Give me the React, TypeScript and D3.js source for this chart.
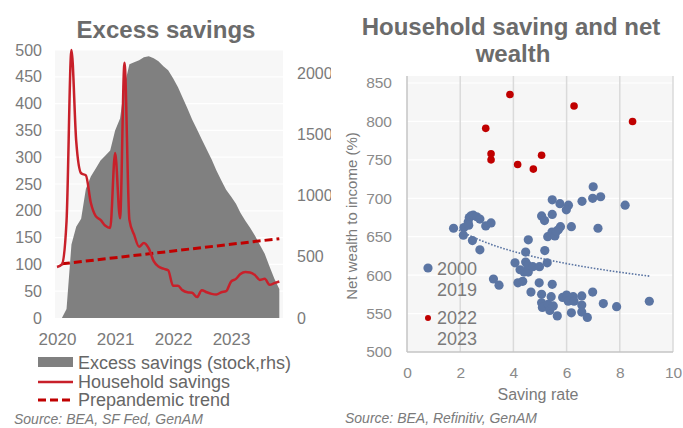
import React, { useEffect, useRef } from 'react';
import * as d3 from 'd3';

// ---- left chart: monthly, Jan 2020 .. Nov 2023
const firstMonth = new Date(2020, 0, 1);
const householdSavings = [
  95, 100, 180, 500, 330, 270, 266, 215, 190, 183, 172, 168,
  308, 186, 476, 183, 155, 133, 140, 130, 106, 96, 92, 89,
  60, 60, 52, 48, 47, 39, 52, 48, 45, 44, 48, 50,
  68, 73, 82, 86, 85, 80, 71, 73, 62, 65, 68,
];
const excessSavings = [
  0, 0, 74, 600, 746, 811, 1057, 1156, 1221, 1287, 1328, 1369,
  1533, 1631, 1900, 2074, 2090, 2107, 2131, 2139, 2123, 2098, 2057, 2025,
  1959, 1885, 1803, 1713, 1623, 1541, 1459, 1377, 1295, 1205, 1123, 1049,
  992, 934, 861, 795, 738, 672, 598, 525, 418, 320, 238,
];
// month index and value of the prepandemic trend ends
const trendMonths = [1, 46];
const trendValues = [101, 148];
const yearTicks = [2020, 2021, 2022, 2023];
const leftTicks = [0, 50, 100, 150, 200, 250, 300, 350, 400, 450, 500];
const rightTicks = [0, 500, 1000, 1500, 2000];

// ---- right chart: saving rate vs net wealth to income
const pre2020: [number, number][] = [
  [1.75, 661], [2.14, 662], [2.12, 652], [2.30, 669], [2.34, 675], [2.40, 677],
  [2.49, 678], [2.62, 676], [2.74, 673], [2.32, 665], [2.46, 645], [2.74, 633],
  [2.96, 664], [3.16, 668], [3.25, 595], [3.46, 587],
  [4.06, 616], [4.46, 630], [4.46, 617], [4.56, 646], [4.25, 607], [4.40, 604],
  [4.56, 604], [4.54, 613], [4.73, 611], [4.98, 611], [5.27, 616], [5.18, 632],
  [4.17, 590], [4.35, 592], [4.97, 590], [5.46, 588], [4.66, 578],
  [5.06, 575], [5.06, 564], [5.09, 558], [5.31, 562], [5.37, 554], [5.42, 572],
  [5.50, 560], [5.65, 547], [5.85, 571], [6.00, 574], [6.06, 566], [6.25, 572],
  [6.28, 566], [6.57, 573], [6.57, 561], [6.57, 552], [6.78, 545], [6.18, 551],
  [6.98, 578], [7.38, 563], [7.88, 559], [9.11, 566],
  [7.00, 715], [6.98, 700], [7.28, 702], [8.20, 691], [6.58, 696], [5.46, 698],
  [5.75, 693], [6.07, 691], [5.99, 685], [5.06, 677], [5.46, 679], [5.17, 671],
  [6.18, 663], [7.18, 661], [5.77, 663], [5.69, 659], [5.56, 655], [5.45, 656],
  [5.29, 650], [5.56, 651], [5.62, 657],
];
const recent: [number, number][] = [
  [2.96, 791], [3.16, 758], [3.16, 750], [3.87, 835], [4.16, 744],
  [4.75, 738], [5.06, 756], [6.28, 820], [8.48, 800],
];
const rateTicks = [0, 2, 4, 6, 8, 10];
const wealthTicks = [500, 550, 600, 650, 700, 750, 800, 850];

const font = "'Liberation Sans', Arial, sans-serif";

export default function App() {
  const svgRef = useRef<SVGSVGElement>(null);

  useEffect(() => {
    if (!svgRef.current) return;
    const svg = d3.select(svgRef.current);
    svg.selectAll('*').remove();
    svg.attr('font-family', font);

    const defs = svg.append('defs');
    defs.append('clipPath').attr('id', 'leftClip')
      .append('rect').attr('x', 0).attr('y', 0).attr('width', 331).attr('height', 428);

    // ================= LEFT =================
    const g = svg.append('g').attr('clip-path', 'url(#leftClip)');
    const months = householdSavings.map((_, i) => d3.timeMonth.offset(firstMonth, i));

    const x = d3.scaleTime()
      .domain([new Date(2020, 0, 1), new Date(2024, 0, 1)])
      .range([57, 289]);
    const yL = d3.scaleLinear().domain([0, 500]).range([318, 50]);
    const yR = d3.scaleLinear().domain([0, 2190]).range([318, 50]);

    g.append('rect')
      .attr('x', 55).attr('y', 50).attr('width', 228).attr('height', 268)
      .attr('fill', '#f7f7f7');

    g.append('g').selectAll('line').data(leftTicks.slice(1)).enter().append('line')
      .attr('x1', 55).attr('x2', 283)
      .attr('y1', (d) => yL(d)).attr('y2', (d) => yL(d))
      .attr('stroke', '#ffffff').attr('stroke-width', 1.2);

    const area = d3.area<number>()
      .x((_, i) => x(months[i]))
      .y0(yR(0))
      .y1((d) => yR(d));
    g.append('path').datum(excessSavings).attr('d', area).attr('fill', '#808080');

    const trendLine = d3.line<number>()
      .x((_, i) => x(d3.timeMonth.offset(firstMonth, trendMonths[i])))
      .y((d) => yL(d));
    g.append('path').datum(trendValues).attr('d', trendLine)
      .attr('fill', 'none').attr('stroke', '#c00000')
      .attr('stroke-width', 3).attr('stroke-dasharray', '8,4');

    const line = d3.line<number>()
      .x((_, i) => x(months[i]))
      .y((d) => yL(d))
      .curve(d3.curveMonotoneX);
    g.append('path').datum(householdSavings).attr('d', line)
      .attr('fill', 'none').attr('stroke', '#c8202a')
      .attr('stroke-width', 2.5).attr('stroke-linejoin', 'round');

    const styleAxis = (sel: any, size: number, color: string) => {
      sel.select('.domain').remove();
      sel.selectAll('line').remove();
      sel.selectAll('text').attr('font-family', font).attr('font-size', size).attr('fill', color);
    };

    g.append('g').attr('transform', 'translate(55,0)')
      .call(d3.axisLeft(yL).tickValues(leftTicks).tickSize(0).tickPadding(13))
      .call((s) => styleAxis(s, 16, '#7a7a7a'));

    g.append('g').attr('transform', 'translate(283,0)')
      .call(d3.axisRight(yR).tickValues(rightTicks).tickFormat(d3.format('d') as any)
        .tickSize(0).tickPadding(14))
      .call((s) => styleAxis(s, 16, '#7a7a7a'));

    g.append('g').attr('transform', 'translate(0,318)')
      .call(d3.axisBottom(x)
        .tickValues(yearTicks.map((yr) => new Date(yr, 0, 1)))
        .tickFormat(d3.timeFormat('%Y') as any)
        .tickSize(0).tickPadding(15))
      .call((s) => styleAxis(s, 17, '#7a7a7a'));

    g.append('text')
      .attr('x', 166).attr('y', 38).attr('text-anchor', 'middle')
      .attr('font-size', 24).attr('font-weight', 'bold').attr('fill', '#6b6b6b')
      .text('Excess savings');

    // legend
    const leg = g.append('g').attr('font-size', 18).attr('fill', '#666666');
    leg.append('rect').attr('x', 38).attr('y', 357).attr('width', 35).attr('height', 10).attr('fill', '#808080');
    leg.append('text').attr('x', 78).attr('y', 369).text('Excess savings (stock,rhs)');
    leg.append('line').attr('x1', 38).attr('x2', 73).attr('y1', 382).attr('y2', 382)
      .attr('stroke', '#c8202a').attr('stroke-width', 2.5);
    leg.append('text').attr('x', 78).attr('y', 388).text('Household savings');
    leg.append('line').attr('x1', 38).attr('x2', 73).attr('y1', 400).attr('y2', 400)
      .attr('stroke', '#c00000').attr('stroke-width', 3).attr('stroke-dasharray', '8,4');
    leg.append('text').attr('x', 78).attr('y', 406).text('Prepandemic trend');

    g.append('text').attr('x', 14).attr('y', 424)
      .attr('font-size', 14).attr('font-style', 'italic').attr('fill', '#7a7a7a')
      .text('Source: BEA, SF Fed, GenAM');

    // ================= RIGHT =================
    const r = svg.append('g');
    const xs = d3.scaleLinear().domain([0, 10]).range([407, 673]);
    const ys = d3.scaleLinear().domain([500, 850]).range([352, 83]);

    r.append('rect')
      .attr('x', 407).attr('y', 76).attr('width', 266).attr('height', 276)
      .attr('fill', '#f6f6f6');

    r.append('g').selectAll('line').data(wealthTicks.slice(1)).enter().append('line')
      .attr('x1', 407).attr('x2', 673)
      .attr('y1', (d) => ys(d)).attr('y2', (d) => ys(d))
      .attr('stroke', '#ffffff').attr('stroke-width', 1.2);

    r.append('g').selectAll('line').data(rateTicks.slice(1)).enter().append('line')
      .attr('x1', (d) => xs(d)).attr('x2', (d) => xs(d))
      .attr('y1', 76).attr('y2', 352)
      .attr('stroke', '#dadada').attr('stroke-width', 1.5);

    r.append('line').attr('x1', 407).attr('x2', 407).attr('y1', 76).attr('y2', 352)
      .attr('stroke', '#c4c4c4').attr('stroke-width', 1.5);
    r.append('line').attr('x1', 407).attr('x2', 673).attr('y1', 352).attr('y2', 352)
      .attr('stroke', '#c4c4c4').attr('stroke-width', 1.5);

    r.append('g').attr('transform', 'translate(407,0)')
      .call(d3.axisLeft(ys).tickValues(wealthTicks).tickSize(0).tickPadding(15))
      .call((s) => styleAxis(s, 15.5, '#8a8a8a'));

    r.append('g').attr('transform', 'translate(0,352)')
      .call(d3.axisBottom(xs).tickValues(rateTicks).tickSize(0).tickPadding(15))
      .call((s) => styleAxis(s, 15.5, '#8a8a8a'));

    // logarithmic trendline fitted to the 2000-2019 points
    const lx = pre2020.map((d) => Math.log(d[0]));
    const mx = d3.mean(lx)!;
    const my = d3.mean(pre2020, (d) => d[1])!;
    const b = d3.sum(pre2020, (d, i) => (lx[i] - mx) * (d[1] - my)) /
      d3.sum(lx, (v) => (v - mx) * (v - mx));
    const a = my - b * mx;
    const [minX, maxX] = d3.extent(pre2020, (d) => d[0]) as [number, number];
    const trendPts = d3.range(minX, maxX, 0.1).concat([maxX]).map((v) => [v, a + b * Math.log(v)]);
    r.append('path')
      .datum(trendPts)
      .attr('d', d3.line<number[]>().x((d) => xs(d[0])).y((d) => ys(d[1])))
      .attr('fill', 'none').attr('stroke', '#5b75a3')
      .attr('stroke-width', 1.6).attr('stroke-dasharray', '1.6,1.6');

    r.append('g').selectAll('circle').data(pre2020).enter().append('circle')
      .attr('cx', (d) => xs(d[0])).attr('cy', (d) => ys(d[1])).attr('r', 4.6)
      .attr('fill', '#5b75a3');
    r.append('g').selectAll('circle').data(recent).enter().append('circle')
      .attr('cx', (d) => xs(d[0])).attr('cy', (d) => ys(d[1])).attr('r', 3.8)
      .attr('fill', '#c00000');

    // legend inside plot
    const rl = r.append('g').attr('font-size', 18).attr('fill', '#7a7a7a');
    rl.append('circle').attr('cx', 428).attr('cy', 268).attr('r', 4.6).attr('fill', '#5b75a3');
    rl.append('text').attr('x', 437).attr('y', 275).text('2000');
    rl.append('text').attr('x', 437).attr('y', 296).text('2019');
    rl.append('circle').attr('cx', 428).attr('cy', 318).attr('r', 3).attr('fill', '#c00000');
    rl.append('text').attr('x', 437).attr('y', 324).text('2022');
    rl.append('text').attr('x', 437).attr('y', 345).text('2023');

    r.append('text')
      .attr('transform', 'translate(357,216) rotate(-90)')
      .attr('text-anchor', 'middle').attr('font-size', 15).attr('fill', '#7a7a7a')
      .text('Net wealth to income (%)');
    r.append('text')
      .attr('x', 538).attr('y', 400).attr('text-anchor', 'middle')
      .attr('font-size', 16).attr('fill', '#7a7a7a')
      .text('Saving rate');

    const title = r.append('text').attr('text-anchor', 'middle')
      .attr('font-size', 24).attr('font-weight', 'bold').attr('fill', '#6b6b6b');
    title.append('tspan').attr('x', 511).attr('y', 35).text('Household saving and net');
    title.append('tspan').attr('x', 513).attr('y', 62).text('wealth');

    r.append('text').attr('x', 345).attr('y', 423)
      .attr('font-size', 14).attr('font-style', 'italic').attr('fill', '#7a7a7a')
      .text('Source: BEA, Refinitiv, GenAM');
  }, []);

  return (
    <svg
      ref={svgRef}
      width={683}
      height={428}
      style={{ position: 'absolute', left: 0, top: 0, background: '#ffffff' }}
    />
  );
}
